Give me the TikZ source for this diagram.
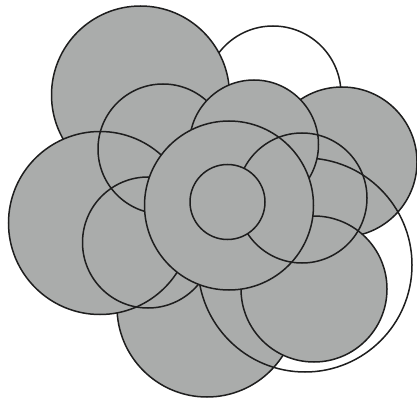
\documentclass[tikz,border=0pt]{standalone}
\definecolor{cgray}{RGB}{170,172,171}
\definecolor{cline}{RGB}{30,30,30}
\begin{document}
\begin{tikzpicture}[x=1pt,y=-1pt,
  disc/.style={fill=cgray,draw=cline,line width=1.5pt},
  ring/.style={draw=cline,line width=1.5pt},
  flat/.style={fill=cgray}]
\useasboundingbox (0,0) rectangle (417,398);
\clip (0,0) rectangle (417,398);
\fill[white] (0,0) rectangle (417,398);
% white circle, top right
\path[ring,fill=white] (273,94) circle[radius=68pt];
% big top-left
\path[disc] (140.5,95) circle[radius=89pt];
% right
\path[disc] (342,162) circle[radius=75pt];
% bottom
\path[disc] (207,307) circle[radius=90pt];
% left group: fills first, then outlines
\path[flat] (163,149) circle[radius=65pt];
\path[flat] (100,223) circle[radius=91.5pt];
\path[flat] (148,242.5) circle[radius=65.5pt];
\path[ring] (163,149) circle[radius=65pt];
\path[ring] (100,223) circle[radius=91.5pt];
\path[ring] (148,242.5) circle[radius=65.5pt];
% bottom right
\path[disc] (314,289) circle[radius=73pt];
% large open circle, bottom right
\path[ring] (305,265) circle[radius=107pt];
% top centre
\path[disc] (254,144.5) circle[radius=64.5pt];
% central
\path[disc] (229,205.5) circle[radius=84.5pt];
% right middle (outline)
\path[ring] (302,198) circle[radius=65pt];
% small centre
\path[disc] (227.5,202) circle[radius=37.5pt];
\end{tikzpicture}
\end{document}
